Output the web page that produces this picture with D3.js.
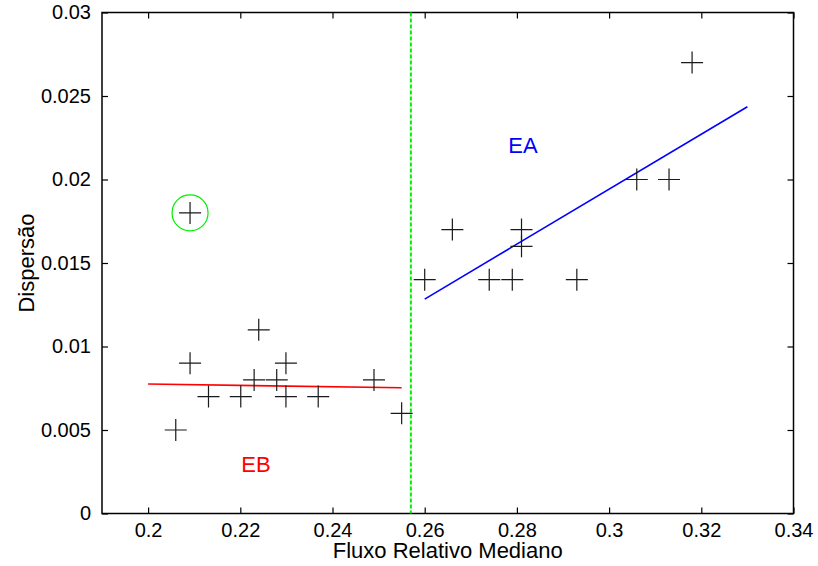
<!DOCTYPE html>
<html>
<head>
<meta charset="utf-8">
<script src="https://cdn.jsdelivr.net/npm/d3@7"></script>
<style>
  body { margin: 0; background: #fff; }
  svg text { font-family: "Liberation Sans", Arial, sans-serif; fill: #000; }
</style>
</head>
<body>
<div id="chart"></div>
<script>
// data
var flux = [0.206, 0.2091, 0.2131, 0.2201, 0.224, 0.223, 0.2279, 0.2299, 0.2299, 0.2369, 0.249, 0.255,
            0.260, 0.266, 0.274, 0.279, 0.281, 0.281, 0.293, 0.306, 0.313, 0.318];
var disp = [0.005, 0.009, 0.007, 0.007, 0.011, 0.008, 0.008, 0.009, 0.007, 0.007, 0.008, 0.006,
            0.014, 0.017, 0.014, 0.014, 0.017, 0.016, 0.014, 0.020, 0.020, 0.027];
var outlier = [0.2091, 0.018];   // circled point
var splitX = 0.257;              // green dashed divider
var fitEB_x = [0.2, 0.255], fitEB_y = [0.00775, 0.00753];
var fitEA_x = [0.26, 0.33], fitEA_y = [0.01284, 0.02436];
var xTicks = [0.2, 0.22, 0.24, 0.26, 0.28, 0.3, 0.32, 0.34];
var yTicks = [0, 0.005, 0.01, 0.015, 0.02, 0.025, 0.03];
var labelEA = [0.2813, 0.02156], labelEB = [0.2234, 0.00247];

var W = 818, H = 566;
var m = {left: 102, right: 24.5, top: 12.5, bottom: 52.5};

var svg = d3.select("#chart").append("svg")
  .attr("width", W).attr("height", H);
svg.append("rect").attr("width", W).attr("height", H).attr("fill", "#fff");

var x = d3.scaleLinear().domain([0.19, 0.34]).range([m.left, W - m.right]);
var y = d3.scaleLinear().domain([0, 0.03]).range([H - m.bottom, m.top]);
var fmt = d3.format("~g");

//Axes with ticks pointing into the plot, mirrored on top and right
svg.append("g").attr("transform", "translate(0," + y(0) + ")")
  .call(d3.axisBottom(x).tickValues(xTicks).tickFormat(fmt).tickSizeInner(-6).tickSizeOuter(0).tickPadding(9))
  .call(g => g.select(".domain").remove());
svg.append("g").attr("transform", "translate(0," + y(0.03) + ")")
  .call(d3.axisTop(x).tickValues(xTicks).tickFormat("").tickSizeInner(-6).tickSizeOuter(0))
  .call(g => g.select(".domain").remove());
svg.append("g").attr("transform", "translate(" + x(0.19) + ",0)")
  .call(d3.axisLeft(y).tickValues(yTicks).tickFormat(fmt).tickSizeInner(-6).tickSizeOuter(0).tickPadding(11))
  .call(g => g.select(".domain").remove());
svg.append("g").attr("transform", "translate(" + x(0.34) + ",0)")
  .call(d3.axisRight(y).tickValues(yTicks).tickFormat("").tickSizeInner(-6).tickSizeOuter(0))
  .call(g => g.select(".domain").remove());

svg.selectAll(".tick text").attr("font-size", 20).attr("font-family", null);
svg.selectAll(".tick line").attr("stroke", "#000").attr("stroke-width", 1.2);

//Frame
svg.append("rect")
  .attr("x", x(0.19)).attr("y", y(0.03))
  .attr("width", x(0.34) - x(0.19)).attr("height", y(0) - y(0.03))
  .attr("fill", "none").attr("stroke", "#000").attr("stroke-width", 1.5);

//Divider
svg.append("line")
  .attr("x1", x(splitX)).attr("x2", x(splitX))
  .attr("y1", y(0.03)).attr("y2", y(0))
  .attr("stroke", "#00ee00").attr("stroke-width", 2)
  .attr("stroke-dasharray", "4,2");

//Fit lines
var line = d3.line().x(d => x(d[0])).y(d => y(d[1]));
svg.append("path").datum(d3.zip(fitEB_x, fitEB_y))
  .attr("d", line).attr("fill", "none").attr("stroke", "#ff0000").attr("stroke-width", 1.6);
svg.append("path").datum(d3.zip(fitEA_x, fitEA_y))
  .attr("d", line).attr("fill", "none").attr("stroke", "#0000ff").attr("stroke-width", 1.6);

//Plus markers
var s = 11;
svg.append("g").selectAll("path")
  .data(d3.zip(flux, disp).concat([outlier]))
  .enter().append("path")
  .attr("d", d => {
    var px = x(d[0]), py = y(d[1]);
    return "M" + (px - s) + "," + py + "H" + (px + s) + "M" + px + "," + (py - s) + "V" + (py + s);
  })
  .attr("stroke", "#1a1a1a").attr("stroke-width", 1.2).attr("fill", "none");

//Outlier circle
svg.append("circle")
  .attr("cx", x(outlier[0])).attr("cy", y(outlier[1])).attr("r", 18)
  .attr("fill", "none").attr("stroke", "#00ee00").attr("stroke-width", 1.2);

//Region labels
svg.append("text").attr("x", x(labelEA[0])).attr("y", y(labelEA[1]))
  .attr("text-anchor", "middle").attr("font-size", 22).style("fill", "#0000ff").text("EA");
svg.append("text").attr("x", x(labelEB[0])).attr("y", y(labelEB[1]))
  .attr("text-anchor", "middle").attr("font-size", 22).style("fill", "#ff0000").text("EB");

//Axis titles
svg.append("text").attr("x", (x(0.19) + x(0.34)) / 2).attr("y", 558)
  .attr("text-anchor", "middle").attr("font-size", 22).text("Fluxo Relativo Mediano");
svg.append("text")
  .attr("transform", "translate(34," + (y(0.015)) + ") rotate(-90)")
  .attr("text-anchor", "middle").attr("font-size", 22).text("Dispersão");
</script>
</body>
</html>
